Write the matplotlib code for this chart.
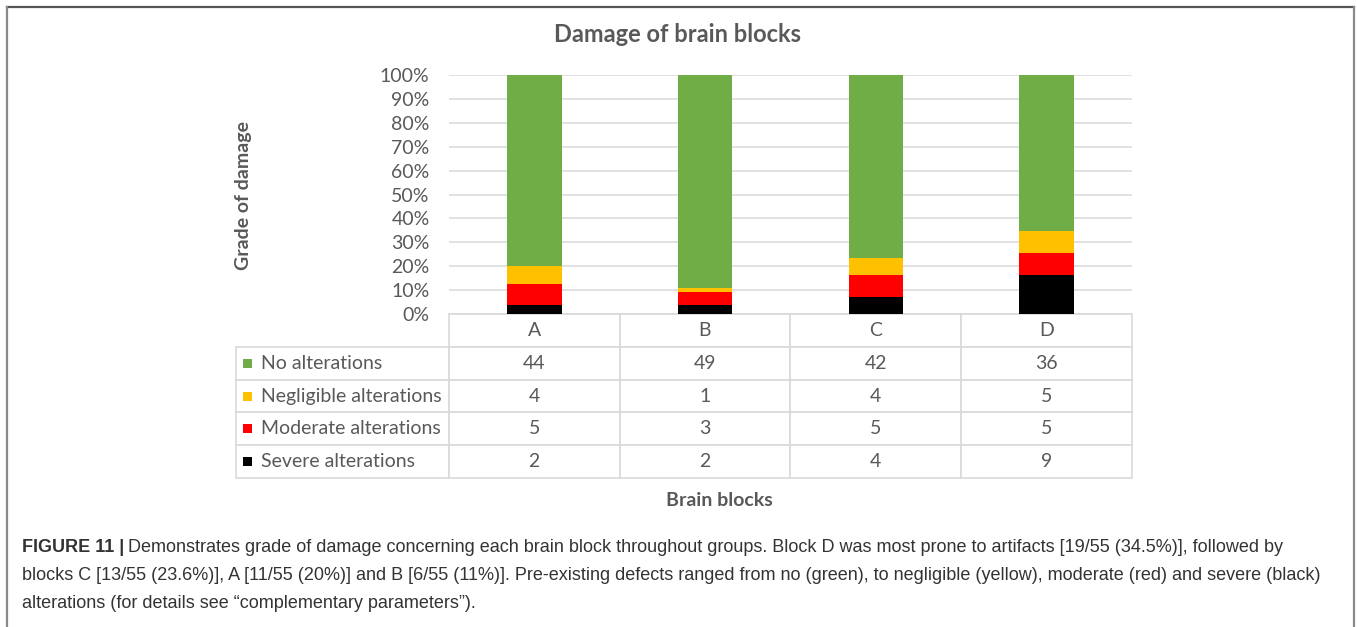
import matplotlib
matplotlib.use("Agg")
import matplotlib.pyplot as plt
from matplotlib.patches import Rectangle
from matplotlib.lines import Line2D
from matplotlib.table import Table
from matplotlib.ticker import PercentFormatter
import numpy as np

# ── data ──
blocks = ["A", "B", "C", "D"]
series = ["No alterations", "Negligible alterations", "Moderate alterations", "Severe alterations"]
no_alt = [44, 49, 42, 36]
negligible = [4, 1, 4, 5]
moderate = [5, 3, 5, 5]
severe = [2, 2, 4, 9]
colors = ["#70AD47", "#FFC000", "#FF0000", "#000000"]

TXT = "#595959"
GRID = "#D9D9D9"
CHART_FONT = ["Lato", "DejaVu Sans"]
CAP_FONT = ["Liberation Sans", "DejaVu Sans"]

W, H = 1357, 627
fig = plt.figure(figsize=(W / 100, H / 100), dpi=100)
fig.patch.set_facecolor("white")

def fx(px):
    return px / W

def fy(py):
    return 1 - py / H

# outer frame (open at the bottom)
fig.add_artist(Line2D([fx(7), fx(1354)], [fy(7), fy(7)], color="#555555", lw=1.6))
fig.add_artist(Line2D([fx(7), fx(7)], [fy(7), 0], color="#8a8a8a", lw=1.6))
fig.add_artist(Line2D([fx(1354), fx(1354)], [fy(7), 0], color="#8a8a8a", lw=1.6))

# ── plot area ──
x0, x1, y0, y1 = 449, 1132, 75, 314
ax = fig.add_axes([fx(x0), fy(y1), fx(x1 - x0), (y1 - y0) / H])

counts = np.array([severe, moderate, negligible, no_alt], dtype=float)
totals = counts.sum(axis=0)
fracs = counts / totals
xpos = np.arange(len(blocks))
bottom = np.zeros(len(blocks))
for frac, col in zip(fracs, colors[::-1]):
    ax.bar(xpos, frac, 0.32, bottom=bottom, color=col, zorder=3)
    bottom += frac

ax.set_xlim(-0.5, len(blocks) - 0.5)
ax.set_ylim(0, 1)
ax.set_yticks(np.linspace(0, 1, 11))
ax.yaxis.set_major_formatter(PercentFormatter(1.0, decimals=0))
ax.set_xticks([])
ax.tick_params(axis="y", length=0, pad=14, labelsize=14, labelcolor=TXT)
for lab in ax.get_yticklabels():
    lab.set_fontfamily(CHART_FONT)
ax.grid(axis="y", color=GRID, lw=1.1)
ax.set_axisbelow(True)
for s in ax.spines.values():
    s.set_visible(False)

# ── data table under the chart ──
lab_w = (x1 - 236) / (x1 - x0) - 1
tab_h = (478 - y1) / (y1 - y0)
tbl = Table(ax, bbox=[-lab_w, -tab_h, 1 + lab_w, tab_h])
col_w = [213, 171, 171, 171, 171]
nrows = len(series) + 1
rh = 1.0 / nrows
tbl.add_cell(0, 0, col_w[0], rh, text="", loc="center")
tbl[0, 0].visible_edges = "open"
for j, b in enumerate(blocks):
    tbl.add_cell(0, j + 1, col_w[j + 1], rh, text=b, loc="center")
vals = [no_alt, negligible, moderate, severe]
for i, (name, v) in enumerate(zip(series, vals)):
    c = tbl.add_cell(i + 1, 0, col_w[0], rh, text=name, loc="left")
    c.PAD = 0.117
    for j, n in enumerate(v):
        tbl.add_cell(i + 1, j + 1, col_w[j + 1], rh, text=str(n), loc="center")
tbl.auto_set_font_size(False)
tbl.set_fontsize(14)
for (r, cidx), cell in tbl.get_celld().items():
    cell.set_edgecolor(GRID)
    cell.set_linewidth(1.2)
    cell.get_text().set_color(TXT)
    cell.get_text().set_fontfamily(CHART_FONT)
ax.add_table(tbl)

# legend keys in the row labels
row_px = tab_h / nrows
for i, col in enumerate(colors):
    yc = -(i + 1.5) * row_px
    ax.add_patch(Rectangle(((243 - x0) / (x1 - x0), yc - 4.5 / (y1 - y0)),
                           9 / (x1 - x0), 9 / (y1 - y0), transform=ax.transAxes,
                           facecolor=col, edgecolor="none", clip_on=False))

# ── titles ──
fig.text(fx(677), fy(35), "Damage of brain blocks", ha="center", va="center",
         fontsize=17, fontweight="bold", color=TXT, family=CHART_FONT)
fig.text(fx(243), fy(195), "Grade of damage", ha="center", va="center", rotation=90,
         fontsize=14, fontweight="bold", color=TXT, family=CHART_FONT)
fig.text(fx(719), fy(500), "Brain blocks", ha="center", va="center",
         fontsize=14, fontweight="bold", color=TXT, family=CHART_FONT)

# ── caption ──
CAP = "#333333"
cap_size = 12.95
head = fig.text(fx(22), fy(552), "FIGURE 11 |", ha="left", va="baseline",
                fontsize=cap_size, fontweight="bold", color=CAP, family=CAP_FONT)
fig.canvas.draw()
hx = head.get_window_extent().x1 / W
fig.text(hx + fx(4), fy(552),
         "Demonstrates grade of damage concerning each brain block throughout groups. "
         "Block D was most prone to artifacts [19/55 (34.5%)], followed by",
         ha="left", va="baseline", fontsize=cap_size, color=CAP, family=CAP_FONT)
fig.text(fx(22), fy(580),
         "blocks C [13/55 (23.6%)], A [11/55 (20%)] and B [6/55 (11%)]. Pre-existing defects "
         "ranged from no (green), to negligible (yellow), moderate (red) and severe (black)",
         ha="left", va="baseline", fontsize=cap_size, color=CAP, family=CAP_FONT)
fig.text(fx(22), fy(608),
         "alterations (for details see \u201ccomplementary parameters\u201d).",
         ha="left", va="baseline", fontsize=cap_size, color=CAP, family=CAP_FONT)

fig.savefig("out.png", dpi=100, facecolor="white")
plt.close(fig)
